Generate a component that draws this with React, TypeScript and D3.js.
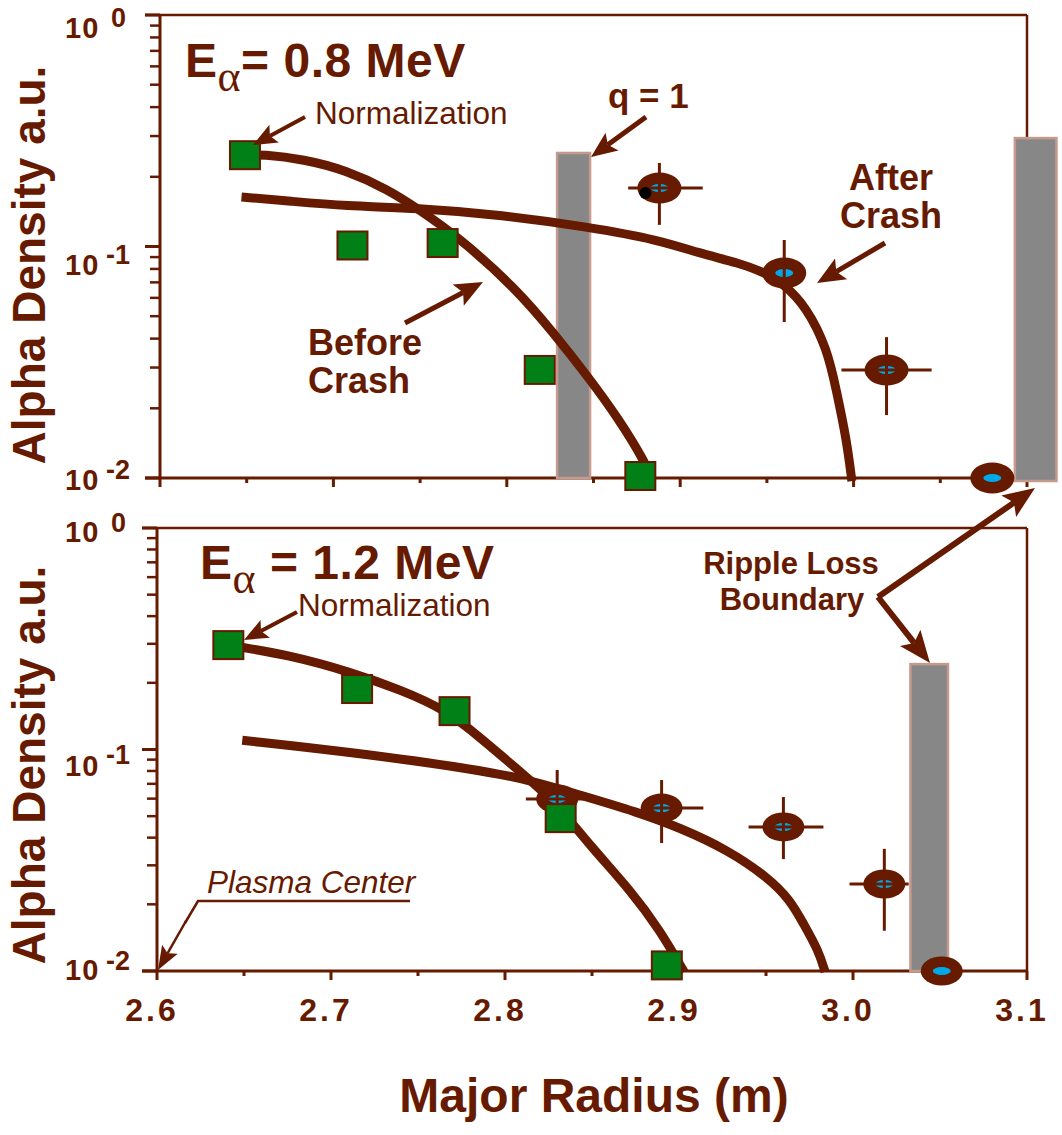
import React from "react";
import * as d3 from "d3";

// ---------- data ----------
const xTickValues = [2.6, 2.65, 2.7, 2.75, 2.8, 2.85, 2.9, 2.95, 3.0, 3.05, 3.1];
const xLabelValues = [2.6, 2.7, 2.8, 2.9, 3.0, 3.1];
const xLabelTexts = ["2.6", "2.7", "2.8", "2.9", "3.0", "3.1"];
const yDecades = [1, 0.1, 0.01];
const yDecadeExponents = ["0", "-1", "-2"];

// E_alpha = 0.8 MeV
const beforeSquaresA_x = [2.649, 2.711, 2.763, 2.819, 2.877];
const beforeSquaresA_y = [0.248, 0.101, 0.1035, 0.0293, 0.0102];
const beforeCurveA_x = [2.649, 2.659, 2.683, 2.707, 2.732, 2.748, 2.772, 2.805, 2.827, 2.847, 2.865, 2.88, 2.884];
const beforeCurveA_y = [0.248, 0.25, 0.238, 0.214, 0.1754, 0.1466, 0.11, 0.0662, 0.0423, 0.0273, 0.0178, 0.0116, 0.0098];
const afterCurveA_x = [2.647, 2.675, 2.707, 2.748, 2.797, 2.847, 2.888, 2.911, 2.934, 2.949, 2.959, 2.973, 2.985, 2.99, 2.996, 2.999];
const afterCurveA_y = [0.1636, 0.157, 0.1496, 0.1466, 0.1368, 0.1214, 0.1067, 0.0935, 0.0849, 0.0769, 0.0696, 0.0548, 0.0357, 0.024, 0.0146, 0.0097];
const afterPointsA_x = [2.888, 2.96, 3.019, 3.08];
const afterPointsA_y = [0.179, 0.0768, 0.0293, 0.01];
const afterPointsA_xLo = [2.87, null, 2.993, null];
const afterPointsA_xHi = [2.913, null, 3.045, null];
const afterPointsA_yLo = [0.124, 0.0472, 0.0187, null];
const afterPointsA_yHi = [0.2296, 0.1067, 0.0406, null];
const q1BarA = [2.829, 2.848, 0.2535];
const rippleBarA = [3.093, 3.117, 0.294];

// E_alpha = 1.2 MeV
const beforeSquaresB_x = [2.641, 2.715, 2.771, 2.832, 2.893];
const beforeSquaresB_y = [0.296, 0.1875, 0.149, 0.049, 0.0106];
const beforeCurveB_x = [2.641, 2.676, 2.711, 2.74, 2.766, 2.786, 2.809, 2.829, 2.849, 2.872, 2.889, 2.903];
const beforeCurveB_y = [0.296, 0.267, 0.224, 0.186, 0.151, 0.1127, 0.0791, 0.0578, 0.0367, 0.0232, 0.0153, 0.0099];
const afterCurveB_x = [2.649, 2.711, 2.786, 2.814, 2.843, 2.876, 2.901, 2.928, 2.951, 2.964, 2.972, 2.98, 2.984];
const afterCurveB_y = [0.11, 0.0974, 0.0808, 0.0728, 0.0623, 0.0522, 0.0442, 0.0352, 0.0265, 0.0209, 0.0161, 0.01244, 0.0099];
const afterPointsB_x = [2.83, 2.89, 2.96, 3.018, 3.051];
const afterPointsB_y = [0.0598, 0.0544, 0.0447, 0.0247, 0.01];
const afterPointsB_xLo = [2.812, 2.88, 2.94, 2.998, null];
const afterPointsB_xHi = [2.849, 2.914, 2.983, 3.032, null];
const afterPointsB_yLo = [0.0433, 0.0378, 0.032, 0.0152, null];
const afterPointsB_yHi = [0.0808, 0.0728, 0.061, 0.0356, null];
const rippleBarB = [3.033, 3.0546, 0.243];

// ---------- styles ----------
const BROWN = "#661a00";
const GREEN = "#008017";
const BLUE = "#00a8e8";
const BAR_FILL = "#878787";
const BAR_EDGE = "#c49a8c";
const SANS = "'Liberation Sans', Arial, Helvetica, sans-serif";
const SERIF = "'Liberation Serif', 'Times New Roman', serif";

type Panel = {
  left: number; right: number; top: number; bottom: number;
  labelDy: number[][];
};

const panelA: Panel = { left: 160, right: 1027, top: 15, bottom: 478, labelDy: [[23, 12], [28, 17], [12, 1]] };
const panelB: Panel = { left: 157, right: 1027, top: 528, bottom: 971, labelDy: [[14, 4], [26, 14], [9, -1]] };

function Arrow({ x1, y1, x2, y2, w = 4, hl = 24, hw = 20 }: any) {
  const dx = x2 - x1, dy = y2 - y1;
  const len = Math.hypot(dx, dy);
  const ux = dx / len, uy = dy / len;
  const bx = x2 - ux * hl, by = y2 - uy * hl;
  const px = -uy, py = ux;
  const nx = bx + ux * hl * 0.2, ny = by + uy * hl * 0.2;
  return (
    <g>
      <line x1={x1} y1={y1} x2={nx} y2={ny} stroke={BROWN} strokeWidth={w} />
      <polygon
        points={`${x2},${y2} ${bx + px * hw / 2},${by + py * hw / 2} ${nx},${ny} ${bx - px * hw / 2},${by - py * hw / 2}`}
        fill={BROWN}
      />
    </g>
  );
}

function Frame({ p, x, y, showLabels }: { p: Panel; x: any; y: any; showLabels: boolean }) {
  const minor: number[] = [];
  [0.01, 0.1].forEach((d) => { for (let k = 2; k <= 9; k++) minor.push(d * k); });
  return (
    <g>
      <line x1={p.left - 15} y1={p.top} x2={p.right} y2={p.top} stroke={BROWN} strokeWidth={2.5} />
      <line x1={p.right} y1={p.top} x2={p.right} y2={p.bottom} stroke={BROWN} strokeWidth={2.5} />
      <line x1={p.left} y1={p.top} x2={p.left} y2={p.bottom} stroke={BROWN} strokeWidth={3} />
      <line x1={p.left - 15} y1={p.bottom} x2={p.right} y2={p.bottom} stroke={BROWN} strokeWidth={3} />
      {yDecades.map((v) => (
        <line key={"M" + v} x1={p.left - 15} x2={p.left} y1={y(v)} y2={y(v)} stroke={BROWN} strokeWidth={3} />
      ))}
      {minor.map((v) => (
        <line key={"m" + v} x1={p.left - 10} x2={p.left} y1={y(v)} y2={y(v)} stroke={BROWN} strokeWidth={2.5} />
      ))}
      {yDecades.map((v, i) => (
        <g key={"L" + v} fill={BROWN} fontFamily={SANS} fontWeight="bold">
          <text x={65} y={y(v) + p.labelDy[i][0]} fontSize={29} letterSpacing={1}>10</text>
          <text x={yDecadeExponents[i] === "0" ? 111 : 106} y={y(v) + p.labelDy[i][1]} fontSize={27}>
            {yDecadeExponents[i]}
          </text>
        </g>
      ))}
      {xTickValues.map((v, i) => (
        <line key={"x" + v} x1={x(v)} x2={x(v)} y1={p.bottom} y2={p.bottom + (i % 2 === 0 ? 9 : 5)} stroke={BROWN} strokeWidth={3} />
      ))}
      {showLabels &&
        xLabelValues.map((v, i) => (
          <text key={"xl" + v} x={x(v) - 5} y={p.bottom + 50} textAnchor="middle" fill={BROWN}
            fontFamily={SANS} fontWeight="bold" fontSize={32} letterSpacing={3}>
            {xLabelTexts[i]}
          </text>
        ))}
    </g>
  );
}

function Bar({ b, x, y, base }: any) {
  const x0 = x(b[0]), x1 = x(b[1]), yt = y(b[2]);
  return <rect x={x0} y={yt} width={x1 - x0} height={base - yt} fill={BAR_FILL} stroke={BAR_EDGE} strokeWidth={2.5} />;
}

function Squares({ xs, ys, x, y }: any) {
  return (
    <g>
      {xs.map((v: number, i: number) => (
        <rect key={i} x={x(v) - 15} y={y(ys[i]) - 14} width={30} height={28} fill={GREEN} stroke={BROWN} strokeWidth={2} />
      ))}
    </g>
  );
}

function Curve({ xs, ys, x, y }: any) {
  const line = d3.line<number>()
    .x((d: number) => x(d))
    .y((_d: number, i: number) => y(ys[i]))
    .curve(d3.curveBasis);
  return <path d={line(xs) || ""} fill="none" stroke={BROWN} strokeWidth={9} strokeLinecap="butt" strokeLinejoin="round" />;
}

function Ellipses({ xs, ys, xLo, xHi, yLo, yHi, x, y, rx, ry }: any) {
  return (
    <g>
      {xs.map((v: number, i: number) => {
        const cx = x(v), cy = y(ys[i]);
        return (
          <g key={i}>
            <ellipse cx={cx} cy={cy} rx={rx} ry={ry} fill={BROWN} />
            <ellipse cx={cx} cy={cy} rx={9} ry={4} fill={BLUE} />
            {xLo[i] != null && (
              <line x1={x(xLo[i])} x2={x(xHi[i])} y1={cy} y2={cy} stroke={BROWN} strokeWidth={3} />
            )}
            {yLo[i] != null && (
              <line x1={cx} x2={cx} y1={y(yLo[i])} y2={y(yHi[i])} stroke={BROWN} strokeWidth={3} />
            )}
          </g>
        );
      })}
    </g>
  );
}

export default function App() {
  const xA = d3.scaleLinear().domain([2.6, 3.1]).range([panelA.left, panelA.right]);
  const yA = d3.scaleLog().domain([0.01, 1]).range([panelA.bottom, panelA.top]);
  const xB = d3.scaleLinear().domain([2.6, 3.1]).range([panelB.left, panelB.right]);
  const yB = d3.scaleLog().domain([0.01, 1]).range([panelB.bottom, panelB.top]);

  const txt = { fill: BROWN, fontFamily: SANS } as any;

  return (
    <svg width={1062} height={1135} style={{ position: "absolute", left: 0, top: 0, background: "#fff" }}>
      <rect width={1062} height={1135} fill="#fff" />

      {/* E = 0.8 MeV panel */}
      <Frame p={panelA} x={xA} y={yA} showLabels={false} />
      <Bar b={q1BarA} x={xA} y={yA} base={panelA.bottom} />
      <Bar b={rippleBarA} x={xA} y={yA} base={panelA.bottom + 3} />
      <Curve xs={beforeCurveA_x} ys={beforeCurveA_y} x={xA} y={yA} />
      <Curve xs={afterCurveA_x} ys={afterCurveA_y} x={xA} y={yA} />
      <Ellipses xs={afterPointsA_x} ys={afterPointsA_y} xLo={afterPointsA_xLo} xHi={afterPointsA_xHi}
        yLo={afterPointsA_yLo} yHi={afterPointsA_yHi} x={xA} y={yA} rx={22} ry={15.5} />
      <circle cx={xA(afterPointsA_x[0]) - 14} cy={yA(afterPointsA_y[0]) + 5} r={6} fill="#000" />
      <Squares xs={beforeSquaresA_x} ys={beforeSquaresA_y} x={xA} y={yA} />

      {/* E = 1.2 MeV panel */}
      <Frame p={panelB} x={xB} y={yB} showLabels={true} />
      <Bar b={rippleBarB} x={xB} y={yB} base={panelB.bottom} />
      <Curve xs={beforeCurveB_x} ys={beforeCurveB_y} x={xB} y={yB} />
      <Curve xs={afterCurveB_x} ys={afterCurveB_y} x={xB} y={yB} />
      <Ellipses xs={afterPointsB_x} ys={afterPointsB_y} xLo={afterPointsB_xLo} xHi={afterPointsB_xHi}
        yLo={afterPointsB_yLo} yHi={afterPointsB_yHi} x={xB} y={yB} rx={21} ry={14.5} />
      <Squares xs={beforeSquaresB_x} ys={beforeSquaresB_y} x={xB} y={yB} />

      {/* axis titles */}
      <text transform="translate(45,265) rotate(-90)" textAnchor="middle" {...txt} fontWeight="bold" fontSize={46}>Alpha Density a.u.</text>
      <text transform="translate(45,765) rotate(-90)" textAnchor="middle" {...txt} fontWeight="bold" fontSize={46}>Alpha Density a.u.</text>
      <text x={594} y={1112} textAnchor="middle" {...txt} fontWeight="bold" fontSize={48}>Major Radius (m)</text>

      {/* energy labels */}
      <text x={185} y={77} {...txt} fontWeight="bold" fontSize={48} letterSpacing={0.5}>
        E<tspan fontFamily={SERIF} fontWeight="normal" fontSize={44} dy={14}>α</tspan>
        <tspan dy={-14}>= 0.8 MeV</tspan>
      </text>
      <text x={200} y={579} {...txt} fontWeight="bold" fontSize={48} letterSpacing={0.5}>
        E<tspan fontFamily={SERIF} fontWeight="normal" fontSize={44} dy={14}>α</tspan>
        <tspan dy={-14}> = 1.2 MeV</tspan>
      </text>

      {/* annotations, 0.8 MeV */}
      <text x={315} y={124} {...txt} fontSize={31.5}>Normalization</text>
      <Arrow x1={305} y1={117} x2={253} y2={145} w={4} hl={24} hw={20} />
      <text x={608} y={108} {...txt} fontWeight="bold" fontSize={35}>q = 1</text>
      <Arrow x1={646} y1={117} x2={591} y2={157} w={5} hl={26} hw={22} />
      <text x={308} y={355} {...txt} fontWeight="bold" fontSize={36}>Before</text>
      <text x={308} y={393} {...txt} fontWeight="bold" fontSize={36}>Crash</text>
      <Arrow x1={405} y1={323} x2={483} y2={282} w={5} hl={28} hw={24} />
      <text x={891} y={190} textAnchor="middle" {...txt} fontWeight="bold" fontSize={36}>After</text>
      <text x={891} y={228} textAnchor="middle" {...txt} fontWeight="bold" fontSize={36}>Crash</text>
      <Arrow x1={885} y1={243} x2={817} y2={283} w={5} hl={28} hw={24} />

      {/* annotations, 1.2 MeV */}
      <text x={298} y={616} {...txt} fontSize={31.5}>Normalization</text>
      <Arrow x1={297} y1={612} x2={244} y2={640} w={4} hl={24} hw={20} />
      <text x={791} y={574} textAnchor="middle" {...txt} fontWeight="bold" fontSize={31}>Ripple Loss</text>
      <text x={792} y={610} textAnchor="middle" {...txt} fontWeight="bold" fontSize={31}>Boundary</text>
      <Arrow x1={878} y1={597} x2={1035} y2={488} w={6} hl={32} hw={26} />
      <Arrow x1={878} y1={597} x2={930} y2={663} w={6} hl={32} hw={26} />
      <text x={207} y={893} {...txt} fontStyle="italic" fontSize={31.5}>Plasma Center</text>
      <polyline points="410,901 198,901 185,923" fill="none" stroke={BROWN} strokeWidth={2.5} />
      <Arrow x1={186} y1={921} x2={158} y2={970} w={2.5} hl={24} hw={18} />
    </svg>
  );
}
